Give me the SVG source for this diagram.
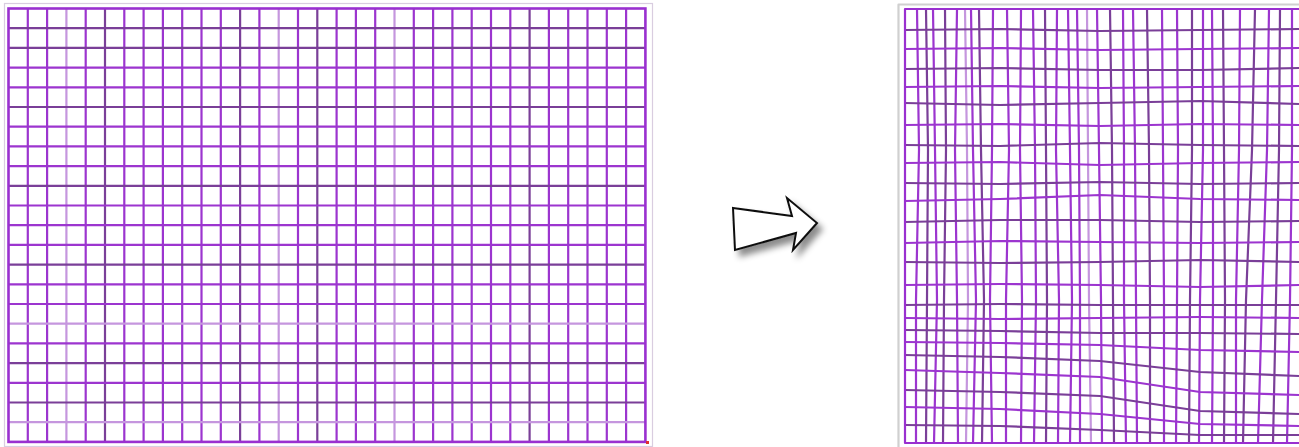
<svg xmlns="http://www.w3.org/2000/svg" width="1299" height="447" viewBox="0 0 1299 447">
<style>
.g line,.g path{fill:none;stroke-width:2.2;stroke-linejoin:round}
.p{stroke:#9c35cf}
.d{stroke:#7a3f98}
.l{stroke:#c596de}
.b{stroke:#9a30d0;stroke-width:2.6}
.frame{fill:none;stroke:#d9cde0;stroke-width:1.2}
</style>
<defs>
<filter id="sh" x="-30%" y="-30%" width="180%" height="180%">
<feDropShadow dx="5" dy="6" stdDeviation="3" flood-color="#000" flood-opacity="0.45"/>
</filter>
</defs>
<rect width="1299" height="447" fill="#fff"/>
<g id="left-grid" class="g">
<rect class="frame" x="4.5" y="3.5" width="648" height="443"/>
<line class="p" x1="27.8" y1="8.5" x2="27.8" y2="441.9"/>
<line class="p" x1="47.1" y1="8.5" x2="47.1" y2="441.9"/>
<line class="l" x1="66.4" y1="8.5" x2="66.4" y2="441.9"/>
<line class="p" x1="85.7" y1="8.5" x2="85.7" y2="441.9"/>
<line class="d" x1="105" y1="8.5" x2="105" y2="441.9"/>
<line class="p" x1="124.3" y1="8.5" x2="124.3" y2="441.9"/>
<line class="p" x1="143.6" y1="8.5" x2="143.6" y2="441.9"/>
<line class="p" x1="162.9" y1="8.5" x2="162.9" y2="441.9"/>
<line class="p" x1="182.2" y1="8.5" x2="182.2" y2="441.9"/>
<line class="p" x1="201.5" y1="8.5" x2="201.5" y2="441.9"/>
<line class="p" x1="220.8" y1="8.5" x2="220.8" y2="441.9"/>
<line class="d" x1="240.1" y1="8.5" x2="240.1" y2="441.9"/>
<line class="p" x1="259.4" y1="8.5" x2="259.4" y2="441.9"/>
<line class="l" x1="278.7" y1="8.5" x2="278.7" y2="441.9"/>
<line class="p" x1="298" y1="8.5" x2="298" y2="441.9"/>
<line class="d" x1="317.3" y1="8.5" x2="317.3" y2="441.9"/>
<line class="p" x1="336.6" y1="8.5" x2="336.6" y2="441.9"/>
<line class="p" x1="355.9" y1="8.5" x2="355.9" y2="441.9"/>
<line class="p" x1="375.2" y1="8.5" x2="375.2" y2="441.9"/>
<line class="l" x1="394.5" y1="8.5" x2="394.5" y2="441.9"/>
<line class="p" x1="413.8" y1="8.5" x2="413.8" y2="441.9"/>
<line class="p" x1="433.1" y1="8.5" x2="433.1" y2="441.9"/>
<line class="p" x1="452.4" y1="8.5" x2="452.4" y2="441.9"/>
<line class="p" x1="471.7" y1="8.5" x2="471.7" y2="441.9"/>
<line class="p" x1="491" y1="8.5" x2="491" y2="441.9"/>
<line class="p" x1="510.3" y1="8.5" x2="510.3" y2="441.9"/>
<line class="d" x1="529.6" y1="8.5" x2="529.6" y2="441.9"/>
<line class="p" x1="548.9" y1="8.5" x2="548.9" y2="441.9"/>
<line class="p" x1="568.2" y1="8.5" x2="568.2" y2="441.9"/>
<line class="p" x1="587.5" y1="8.5" x2="587.5" y2="441.9"/>
<line class="p" x1="606.8" y1="8.5" x2="606.8" y2="441.9"/>
<line class="p" x1="626.1" y1="8.5" x2="626.1" y2="441.9"/>
<line class="d" x1="8.5" y1="28.2" x2="645.4" y2="28.2"/>
<line class="d" x1="8.5" y1="47.9" x2="645.4" y2="47.9"/>
<line class="p" x1="8.5" y1="67.6" x2="645.4" y2="67.6"/>
<line class="p" x1="8.5" y1="87.3" x2="645.4" y2="87.3"/>
<line class="d" x1="8.5" y1="107" x2="645.4" y2="107"/>
<line class="p" x1="8.5" y1="126.7" x2="645.4" y2="126.7"/>
<line class="p" x1="8.5" y1="146.4" x2="645.4" y2="146.4"/>
<line class="p" x1="8.5" y1="166.1" x2="645.4" y2="166.1"/>
<line class="d" x1="8.5" y1="185.8" x2="645.4" y2="185.8"/>
<line class="p" x1="8.5" y1="205.5" x2="645.4" y2="205.5"/>
<line class="p" x1="8.5" y1="225.2" x2="645.4" y2="225.2"/>
<line class="p" x1="8.5" y1="244.9" x2="645.4" y2="244.9"/>
<line class="d" x1="8.5" y1="264.6" x2="645.4" y2="264.6"/>
<line class="p" x1="8.5" y1="284.3" x2="645.4" y2="284.3"/>
<line class="p" x1="8.5" y1="304" x2="645.4" y2="304"/>
<line class="l" x1="8.5" y1="323.7" x2="645.4" y2="323.7"/>
<line class="p" x1="8.5" y1="343.4" x2="645.4" y2="343.4"/>
<line class="d" x1="8.5" y1="363.1" x2="645.4" y2="363.1"/>
<line class="p" x1="8.5" y1="382.8" x2="645.4" y2="382.8"/>
<line class="d" x1="8.5" y1="402.5" x2="645.4" y2="402.5"/>
<line class="l" x1="8.5" y1="422.2" x2="645.4" y2="422.2"/>
<rect x="8.5" y="8.5" width="636.9" height="433.4" fill="none" class="b"/>
<rect x="646" y="441" width="3" height="3" fill="#e03030"/>
</g>
<g id="arrow">
<polygon points="733,208 792,216 787,198 817,223 793,250 796,233 735,250" fill="#fff" stroke="#111" stroke-width="2" stroke-linejoin="miter" filter="url(#sh)"/>
</g>
<g id="right-grid" class="g">
<path d="M898.5 447 V4.5 H1299" fill="none" stroke="#d0d0d0" stroke-width="1.2"/>
<path class="p" d="M917 9 L919 150 L916 300 L916 443"/>
<path class="d" d="M926 9 L928 150 L927 300 L926 443"/>
<path class="p" d="M933 9 L935 150 L937 300 L934 443"/>
<path class="d" d="M945 9 L946 150 L944 300 L943 443"/>
<path class="p" d="M957 9 L955 150 L957 300 L958 443"/>
<path class="l" d="M965 9 L967 150 L968 300 L966 443"/>
<path class="p" d="M971 9 L973 150 L976 300 L973 443"/>
<path class="d" d="M979 9 L981 150 L984 300 L982 443"/>
<path class="p" d="M993 9 L992 150 L990 300 L992 443"/>
<path class="p" d="M1007 9 L1009 150 L1006 300 L1006 443"/>
<path class="p" d="M1021 9 L1020 150 L1022 300 L1021 443"/>
<path class="p" d="M1033 9 L1035 150 L1036 300 L1034 443"/>
<path class="d" d="M1045 9 L1046 150 L1047 300 L1046 443"/>
<path class="p" d="M1057 9 L1056 150 L1059 300 L1058 443"/>
<path class="p" d="M1068 9 L1070 150 L1072 300 L1070 443"/>
<path class="p" d="M1077 9 L1079 150 L1080 300 L1080 443"/>
<path class="l" d="M1087 9 L1088 150 L1089 300 L1091 443"/>
<path class="p" d="M1097 9 L1099 150 L1101 300 L1102 443"/>
<path class="d" d="M1110 9 L1112 150 L1113 300 L1114 443"/>
<path class="p" d="M1123 9 L1124 150 L1124 300 L1126 443"/>
<path class="p" d="M1133 9 L1135 150 L1136 300 L1137 443"/>
<path class="d" d="M1147 9 L1149 150 L1150 300 L1150 443"/>
<path class="p" d="M1162 9 L1163 150 L1164 300 L1164 443"/>
<path class="p" d="M1177 9 L1178 150 L1177 300 L1176 443"/>
<path class="d" d="M1192 9 L1192 150 L1190 300 L1189 443"/>
<path class="p" d="M1203 9 L1203 150 L1200 300 L1199 443"/>
<path class="p" d="M1212 9 L1213 150 L1213 300 L1212 443"/>
<path class="d" d="M1223 9 L1224 150 L1225 300 L1224 443"/>
<path class="p" d="M1240 9 L1239 150 L1236 300 L1236 443"/>
<path class="d" d="M1255 9 L1252 150 L1246 300 L1243 443"/>
<path class="p" d="M1269 9 L1267 150 L1262 300 L1258 443"/>
<path class="d" d="M1280 9 L1279 150 L1276 300 L1273 443"/>
<path class="p" d="M1292 9 L1292 150 L1290 300 L1287 443"/>
<path class="d" d="M905 30 L1000 29 L1100 31 L1200 30 L1299 29"/>
<path class="p" d="M905 49 L1000 48 L1100 50 L1200 49 L1299 48"/>
<path class="d" d="M905 69 L1000 68 L1100 70 L1200 70 L1299 68"/>
<path class="p" d="M905 87 L1000 86 L1100 88 L1200 87 L1299 86"/>
<path class="d" d="M905 103 L1000 105 L1100 103 L1200 101 L1299 104"/>
<path class="p" d="M905 125 L1000 124 L1100 126 L1200 124 L1299 125"/>
<path class="d" d="M905 145 L1000 146 L1100 143 L1200 145 L1299 146"/>
<path class="p" d="M905 163 L1000 162 L1100 165 L1200 163 L1299 162"/>
<path class="d" d="M905 183 L1000 184 L1100 182 L1200 184 L1299 183"/>
<path class="p" d="M905 201 L1000 199 L1100 195 L1200 199 L1299 200"/>
<path class="d" d="M905 222 L1000 220 L1100 220 L1200 222 L1299 221"/>
<path class="p" d="M905 243 L1000 241 L1100 242 L1200 243 L1299 242"/>
<path class="d" d="M905 262 L1000 263 L1100 262 L1200 260 L1299 262"/>
<path class="p" d="M905 285 L1000 284 L1100 285 L1200 287 L1299 285"/>
<path class="d" d="M905 305 L1000 304 L1100 305 L1200 305 L1299 305"/>
<path class="p" d="M905 318 L1000 319 L1100 318 L1200 317 L1299 318"/>
<path class="d" d="M905 330 L1000 331 L1100 333 L1200 333 L1299 334"/>
<path class="p" d="M905 342 L1000 343 L1100 345 L1200 350 L1299 352"/>
<path class="d" d="M905 355 L1000 357 L1100 361 L1200 372 L1299 376"/>
<path class="p" d="M905 370 L1000 373 L1100 377 L1200 392 L1299 395"/>
<path class="d" d="M905 390 L1000 392 L1100 396 L1200 411 L1299 414"/>
<path class="p" d="M905 407 L1000 409 L1100 414 L1200 424 L1299 426"/>
<path class="d" d="M905 425 L1000 426 L1100 430 L1200 435 L1299 435"/>
<path class="b" d="M1300 9 H905 V443 H1300"/>
</g>
</svg>
